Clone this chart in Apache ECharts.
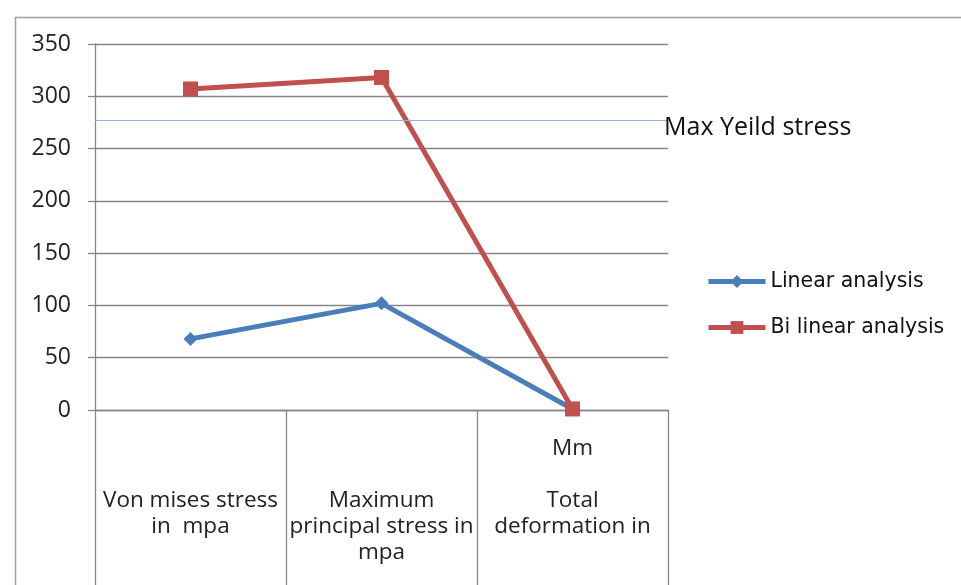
<!DOCTYPE html>
<html>
<head>
<meta charset="utf-8">
<script src="https://cdn.jsdelivr.net/npm/echarts@6/dist/echarts.min.js"></script>
<style>html,body{margin:0;padding:0;background:#fff}#c{width:961px;height:585px}</style>
</head>
<body>
<div id="c"></div>
<script>
var categories = ["\n\nVon mises stress\nin  mpa", "\n\nMaximum\nprincipal stress in\nmpa", "Mm\n\nTotal\ndeformation in"];
var linearAnalysis = [68, 102, 1];
var biLinearAnalysis = [307, 318, 1];
var maxYieldStress = 277;
var yTicks = [0, 50, 100, 150, 200, 250, 300, 350];

var chart = echarts.init(document.getElementById('c'));
chart.setOption({
  animation: false,
  graphic: [{
    type: 'rect', left: 13, top: 15,
    shape: { width: 960, height: 580 },
    style: { fill: 'none', stroke: '#a0a0a0', lineWidth: 1.5 }
  }],
  grid: { left: 95, top: 44, width: 573, height: 366 },
  legend: {
    orient: 'vertical', left: 706, top: 271, padding: 0,
    itemWidth: 57, itemHeight: 16, itemGap: 25,
    lineStyle: { width: 5 },
    textStyle: { fontFamily: 'DejaVu Sans', fontSize: 20.5, color: '#111' },
    data: ['Linear analysis', 'Bi linear analysis']
  },
  xAxis: {
    type: 'category', data: categories, boundaryGap: true,
    axisLine: { lineStyle: { color: '#868686', width: 1.3 } },
    axisTick: { show: true, interval: 0, length: 178, lineStyle: { color: '#868686', width: 1.3 } },
    axisLabel: { color: '#222', fontFamily: 'Open Sans', fontSize: 22.5, lineHeight: 26, margin: 26, interval: 0 }
  },
  yAxis: {
    type: 'value', min: yTicks[0], max: yTicks[yTicks.length - 1], interval: 50,
    axisLine: { show: true, lineStyle: { color: '#868686', width: 1.3 } },
    axisTick: { show: true, length: 7, lineStyle: { color: '#868686', width: 1.3 } },
    splitLine: { lineStyle: { color: '#868686', width: 1.3 } },
    axisLabel: { color: '#222', fontFamily: 'Open Sans', fontSize: 23, margin: 24 }
  },
  series: [{
    name: 'Linear analysis', type: 'line', data: linearAnalysis,
    symbol: 'diamond', symbolSize: 14,
    lineStyle: { color: '#4a7ebb', width: 5 },
    itemStyle: { color: '#4a7ebb' },
    markLine: {
      silent: true, symbol: 'none',
      lineStyle: { color: '#8eb4dc', width: 1.2, type: 'solid' },
      label: { show: true, position: 'end', formatter: 'Max Yeild stress', color: '#111', fontFamily: 'Open Sans', fontSize: 25, distance: -4, offset: [0, 8] },
      data: [{ yAxis: maxYieldStress }]
    }
  }, {
    name: 'Bi linear analysis', type: 'line', data: biLinearAnalysis,
    symbol: 'rect', symbolSize: 15,
    lineStyle: { color: '#c0504d', width: 5 },
    itemStyle: { color: '#c0504d' }
  }]
});
</script>
</body>
</html>
